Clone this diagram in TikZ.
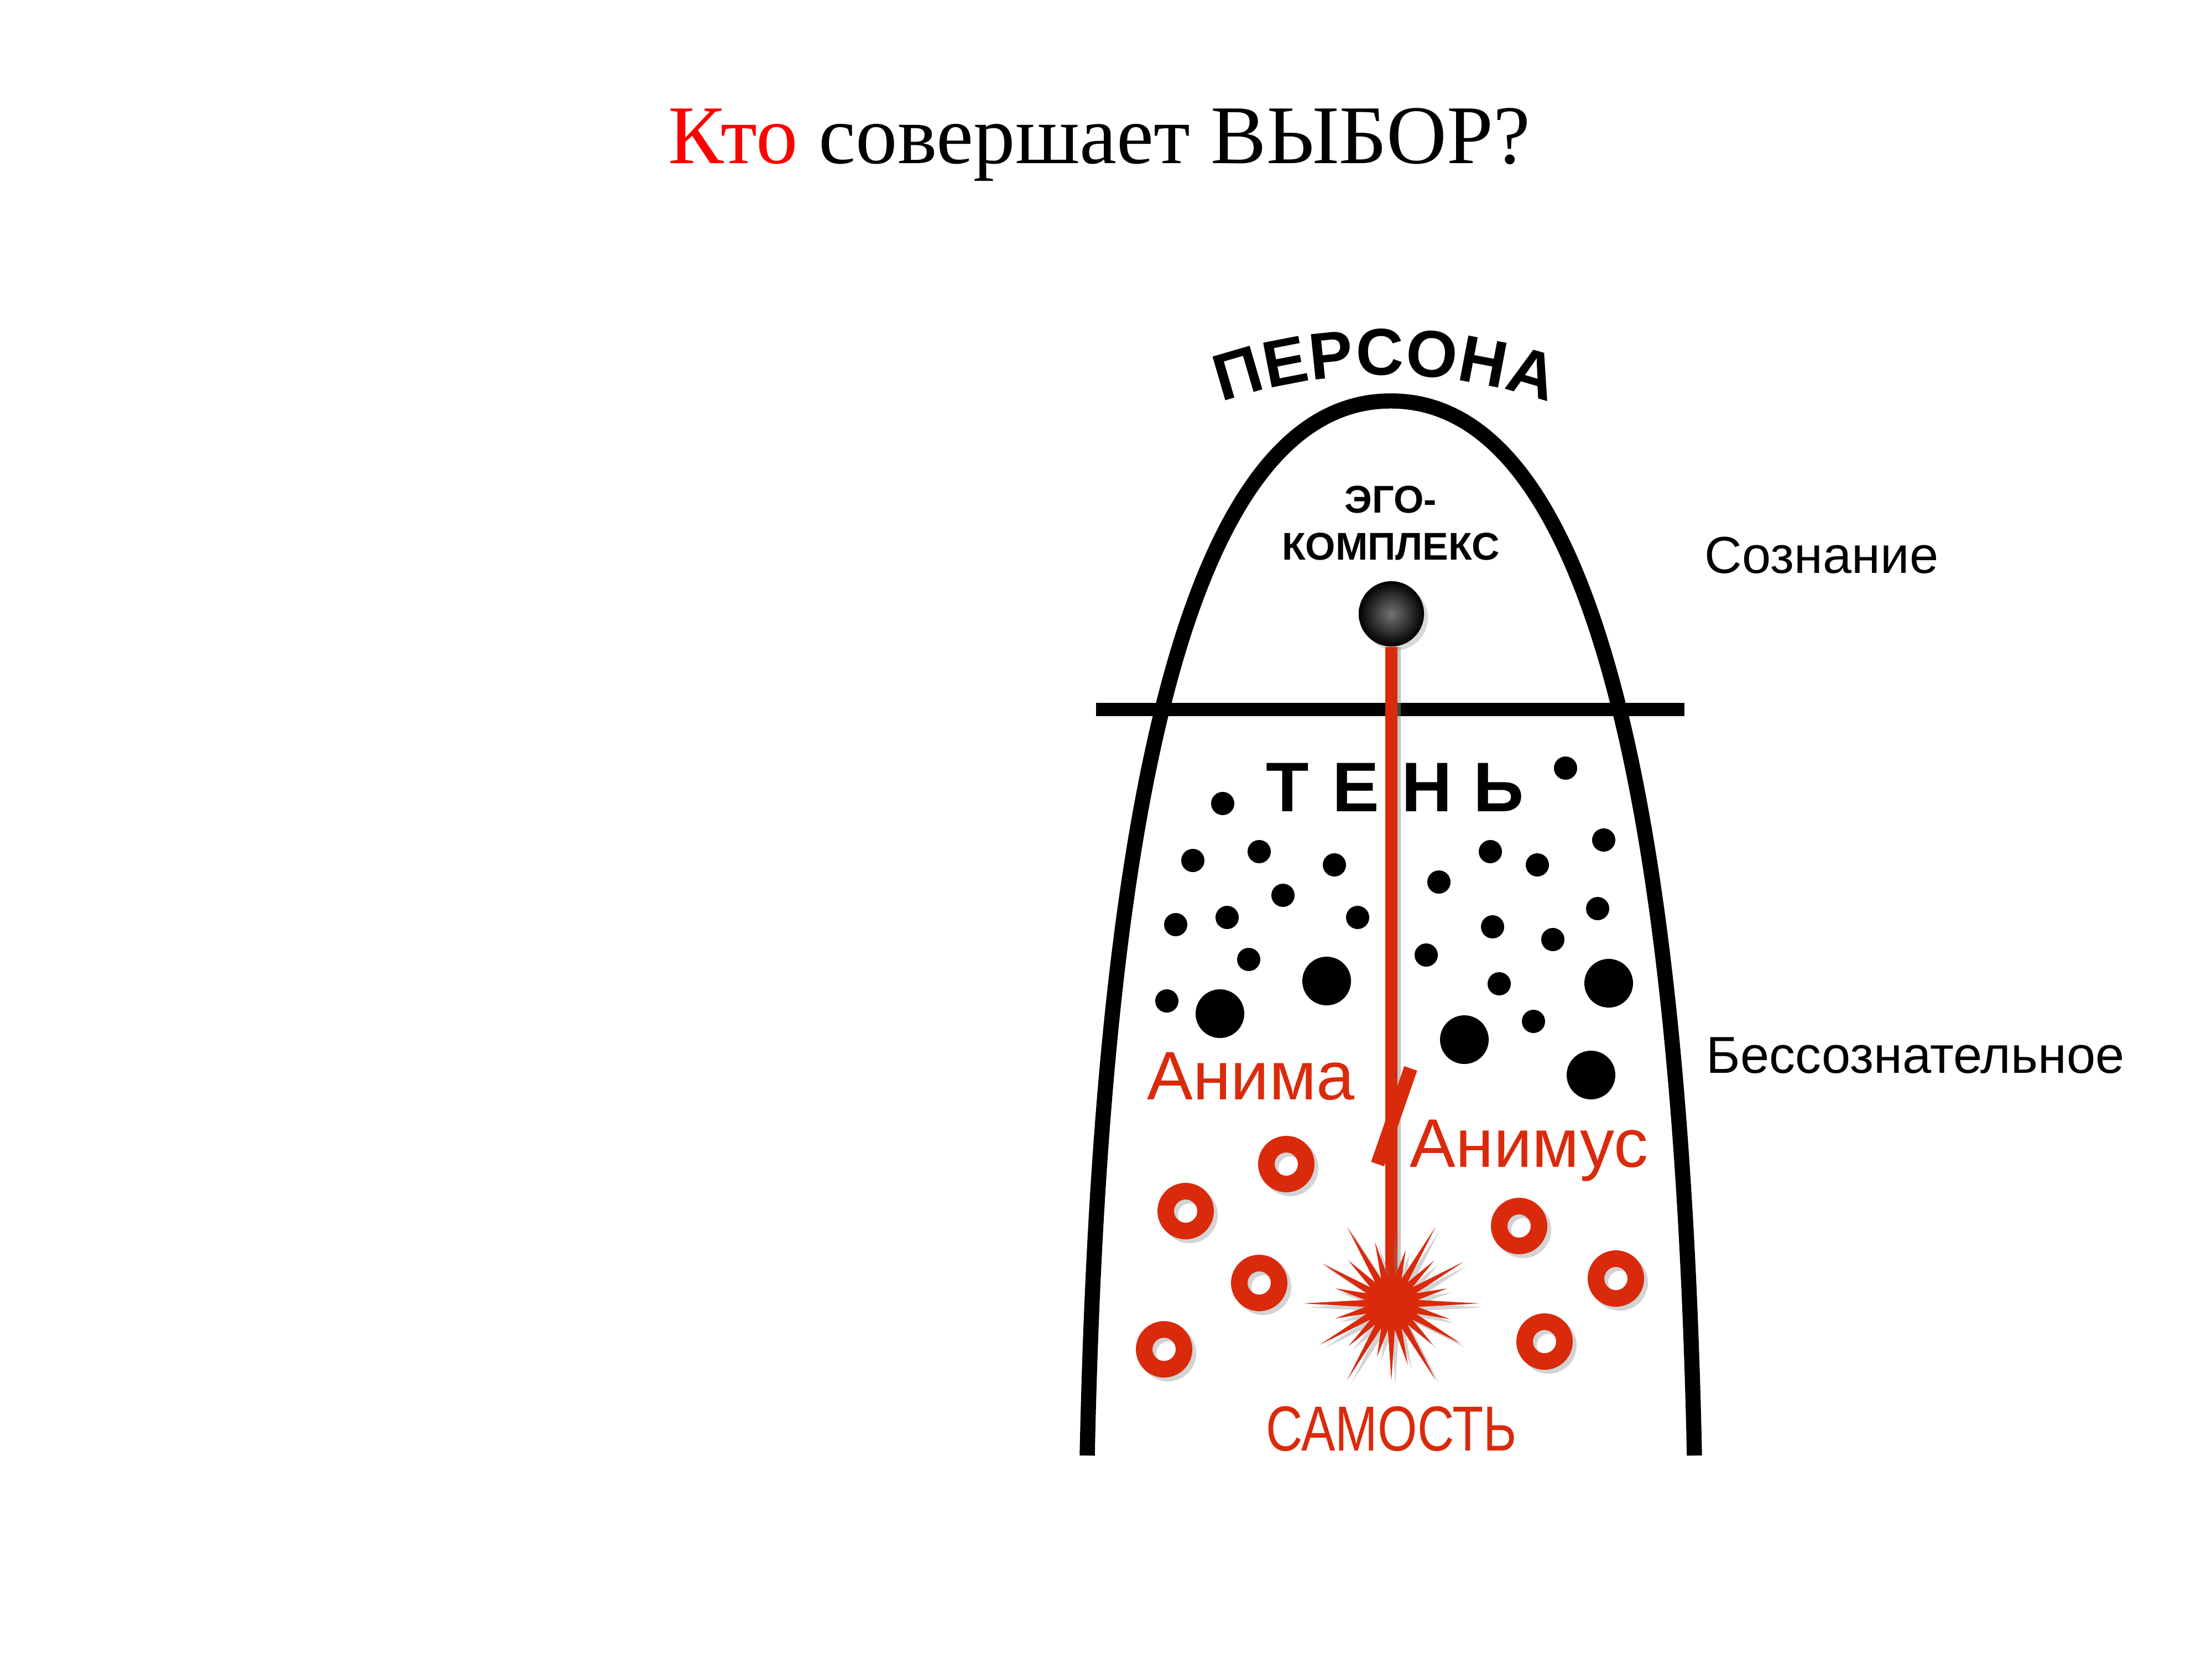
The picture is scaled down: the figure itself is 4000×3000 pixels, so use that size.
\documentclass[tikz,border=0pt]{standalone}
\usepackage{fontspec}
\setmainfont{Liberation Serif}
\setsansfont{Liberation Sans}
\usetikzlibrary{shadows}
\definecolor{jungred}{RGB}{218,42,12}
\tikzset{
    %Outline of the psyche
    archline/.style={
           line width=7.8pt,
           line cap=butt},
    %Border between the two levels
    border/.style={
           line width=6.6pt},
    %Dots of the shadow
    dot/.style={fill=black},
    %Rings of the archetypes
    ring/.style={
           fill=jungred,
           even odd rule,
           drop shadow={opacity=0.35,shadow xshift=2pt,shadow yshift=-2pt,even odd rule}},
    %Burst of the self
    starburst/.style={
           fill=jungred,
           drop shadow={opacity=0.35,shadow xshift=2pt,shadow yshift=-2pt}},
    % Define axis style
    axis/.style={
           draw=jungred,
           line width=6.3pt},
    letter/.style={
           inner sep=0pt,
           font=\sffamily\bfseries\fontsize{34}{34}\selectfont},
    tenletter/.style={
           inner sep=0pt,
           font=\sffamily\bfseries\fontsize{36.1}{36.1}\selectfont},
    egolabel/.style={
           inner sep=0pt,
           font=\sffamily\bfseries\fontsize{19.9}{19.9}\selectfont},
    sidelabel/.style={
           inner sep=0pt,
           font=\sffamily\fontsize{26.7}{26.7}\selectfont},
    redlabel/.style={
           inner sep=0pt,
           text=jungred,
           font=\sffamily\fontsize{35.3}{35.3}\selectfont}
}

\begin{document}
\begin{tikzpicture}[x=0.01cm,y=-0.01cm]
    \useasboundingbox (0,0) rectangle (4000,3000);
    \node (title) [anchor=base,inner sep=0pt,
          font=\fontsize{42.9}{42.9}\selectfont] at (1988,295)
          {\textcolor{red}{Кто} совершает ВЫБОР?};
    % persona along the arch
    \foreach \ch/\ang [count=\i] in {П/-16.3,Е/-11.0,Р/-5.9,С/-0.6,О/5.1,Н/10.8,А/16.3}
      \node (persona\i) [letter,rotate=-\ang]
            at ({2505+950*sin(\ang)},{1587-950*cos(\ang)}) {\ch};
    \draw[archline] (1966,2632) .. controls (1990,1500) and (2140,725) .. (2515,725)
                    .. controls (2890,725) and (3040,1500) .. (3064,2632);
    \draw[border] (1982,1283) -- (3046,1283);
    \node (egotop) [egolabel,anchor=base] at (2515,927) {ЭГО-};
    \node (egobot) [egolabel,anchor=base] at (2515,1012) {КОМПЛЕКС};
    \node (consc) [sidelabel,anchor=base west] at (3082,1036) {Сознание};
    \node (unconsc) [sidelabel,anchor=base west] at (3085,1940) {Бессознательное};
    % shadow
    \foreach \ch/\x [count=\i] in {Т/2328,Е/2452,Н/2580,Ь/2710}
      \node (shadow\i) [tenletter,anchor=base] at (\x,1467) {\ch};
    \foreach \x/\y in {2211/1453,2831/1389,2157/1556,2277/1540,2413/1564,2320/1619,
                       2126/1672,2219/1659,2455/1659,2258/1735,2110/1810,2602/1595,
                       2695/1540,2780/1564,2900/1519,2889/1643,2699/1676,2808/1699,
                       2579/1727,2711/1779,2773/1847}
      \fill[dot] (\x,\y) circle (21);
    \foreach \x/\y in {2399/1774,2206/1833,2909/1778,2648/1880,2877/1944}
      \fill[dot] (\x,\y) circle (44);
    \node (anima) [redlabel,anchor=base] at (2262,1988) {Анима};
    \node (animus) [redlabel,anchor=base] at (2765,2110) {Анимус};
    % ego-self axis
    \node (ego) [circle,minimum size=1.18cm,inner sep=0pt,shading=radial,
                 inner color=black!55,outer color=black,
                 drop shadow={opacity=0.3,shadow xshift=2pt,shadow yshift=-2pt}]
          at (2516,1110) {};
    \coordinate (self) at (2516,2357);
    \draw[black!45,line width=2.5pt,opacity=0.5] ([xshift=3.5pt]ego.south) -- ([xshift=3.5pt]self);
    \draw[axis] (ego.south) -- (self);
    \draw[axis,line width=7pt] (2551,1932) -- (2491,2105);
    \foreach \x/\y in {2326/2105,2144/2190,2277/2320,2105/2440,2747/2217,2922/2312,2793/2426}
      \fill[ring] (\x,\y) circle (51) circle (21);
    \fill[starburst] ({2516+48*cos(7.5)},{2357+48*sin(7.5)})
      \foreach \len [count=\i] in {110,145,105,160,115,140,100,160,110,150,105,160,
                                   105,145,110,160,115,140,100,160,110,150,105,160}
        { -- ({2516+\len*cos(15*\i)},{2357+\len*sin(15*\i)})
          -- ({2516+48*cos(15*\i+7.5)},{2357+48*sin(15*\i+7.5)}) } -- cycle;
    \node (selftxt) [redlabel,anchor=base,font=\sffamily\fontsize{32.7}{32.7}\selectfont]
          at (2516,2623) {\scalebox{0.8}[1]{САМОСТЬ}};
\end{tikzpicture}
\end{document}
